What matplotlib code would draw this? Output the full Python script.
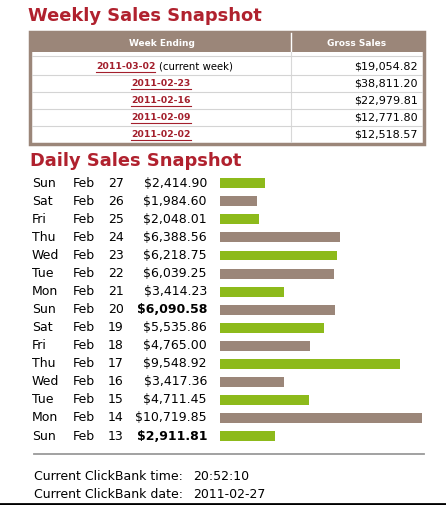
import matplotlib
matplotlib.use("Agg")
import matplotlib.pyplot as plt
from matplotlib.patches import Rectangle

# --- data ---
week_ending = ["2011-03-02", "2011-02-23", "2011-02-16", "2011-02-09", "2011-02-02"]
week_sales = [19054.82, 38811.20, 22979.81, 12771.80, 12518.57]

days = ["Sun", "Sat", "Fri", "Thu", "Wed", "Tue", "Mon",
        "Sun", "Sat", "Fri", "Thu", "Wed", "Tue", "Mon", "Sun"]
months = ["Feb"] * 15
day_nums = [27, 26, 25, 24, 23, 22, 21, 20, 19, 18, 17, 16, 15, 14, 13]
daily_sales = [2414.90, 1984.60, 2048.01, 6388.56, 6218.75, 6039.25, 3414.23,
               6090.58, 5535.86, 4765.00, 9548.92, 3417.36, 4711.45, 10719.85, 2911.81]
bold_rows = [7, 14]

cb_time = "20:52:10"
cb_date = "2011-02-27"

# --- style ---
RED = "#b0212e"
LINK = "#a31f2c"
GREEN = "#8dba1b"
BROWN = "#9b8679"
W, H = 446, 505
plt.rcParams["font.family"] = "DejaVu Sans"

fig = plt.figure(figsize=(W / 100, H / 100), dpi=100)
ax = fig.add_axes([0, 0, 1, 1])
ax.set_xlim(0, W)
ax.set_ylim(H, 0)
ax.axis("off")

# --- weekly section ---
ax.text(28, 16, "Weekly Sales Snapshot", color=RED, fontsize=12.9,
        fontweight="bold", va="center", ha="left")

# table frame + header
ax.add_patch(Rectangle((30, 32), 394, 112, facecolor="white", edgecolor=BROWN, lw=2.5))
ax.add_patch(Rectangle((30, 32), 394, 20, facecolor=BROWN, edgecolor="none"))
ax.plot([291, 291], [33, 52], color="white", lw=1)
ax.plot([291, 291], [52, 142], color="#d8d8d8", lw=0.8)
ax.text(162, 43, "Week Ending", color="white", fontsize=6.5, fontweight="bold",
        ha="center", va="center")
ax.text(357, 43, "Gross Sales", color="white", fontsize=6.5, fontweight="bold",
        ha="center", va="center")

row_lines = [56, 74.5, 92, 109, 126]
for yl in row_lines:
    ax.plot([32, 422], [yl, yl], color="#d4d4d4", lw=0.8)

row_y0, row_dy = 66.7, 17
link_texts = []
for i, (wk, amt) in enumerate(zip(week_ending, week_sales)):
    y = row_y0 + i * row_dy
    if i == 0:
        t = ax.text(96, y, wk, color=LINK, fontsize=6.7, fontweight="bold",
                    ha="left", va="center")
    else:
        t = ax.text(161, y, wk, color=LINK, fontsize=6.7, fontweight="bold",
                    ha="center", va="center")
    link_texts.append(t)
    ax.text(418, y, f"${amt:,.2f}", color="black", fontsize=8,
            ha="right", va="center")

# --- daily section ---
ax.text(30, 161.5, "Daily Sales Snapshot", color=RED, fontsize=12.9,
        fontweight="bold", va="center", ha="left")

d_y0, d_dy = 183.3, 18.05
for i in range(len(days)):
    y = d_y0 + i * d_dy
    ax.text(32, y, days[i], fontsize=9, ha="left", va="center")
    ax.text(73, y, months[i], fontsize=9, ha="left", va="center")
    ax.text(108, y, str(day_nums[i]), fontsize=9, ha="left", va="center")
    ax.text(207, y, f"${daily_sales[i]:,.2f}", fontsize=9, ha="right", va="center",
            fontweight="bold" if i in bold_rows else "normal")

n = len(daily_sales)
top_px = d_y0 - d_dy / 2
bot_px = d_y0 + (n - 1) * d_dy + d_dy / 2
bx = fig.add_axes([220 / W, 1 - bot_px / H, 226 / W, (bot_px - top_px) / H])
bx.set_xlim(0, 12000)
bx.set_ylim(n - 0.5, -0.5)
bx.axis("off")
colors = [GREEN if i % 2 == 0 else BROWN for i in range(n)]
bx.barh(range(n), daily_sales, height=0.55, color=colors, left=0)

# separator + footer
ax.plot([34, 424], [454, 454], color="#9a9a9a", lw=1.3)
ax.text(34, 477, "Current ClickBank time:", fontsize=9, ha="left", va="center")
ax.text(193, 477, cb_time, fontsize=9, ha="left", va="center")
ax.text(34, 495, "Current ClickBank date:", fontsize=9, ha="left", va="center")
ax.text(193, 495, cb_date, fontsize=9, ha="left", va="center")
ax.plot([0, W], [504, 504], color="black", lw=2)

# underline the date links, and put the "(current week)" note after the first
fig.canvas.draw()
inv = ax.transData.inverted()
for i, t in enumerate(link_texts):
    bb = t.get_window_extent()
    (x0, y0), (x1, y1) = inv.transform([(bb.x0, bb.y0), (bb.x1, bb.y1)])
    ax.plot([x0, x1], [y0 + 0.5, y0 + 0.5], color=LINK, lw=0.8)
    if i == 0:
        ax.text(x1 + 4, row_y0, "(current week)", color="black", fontsize=7.3,
                ha="left", va="center")

fig.savefig("out.png", dpi=100)
